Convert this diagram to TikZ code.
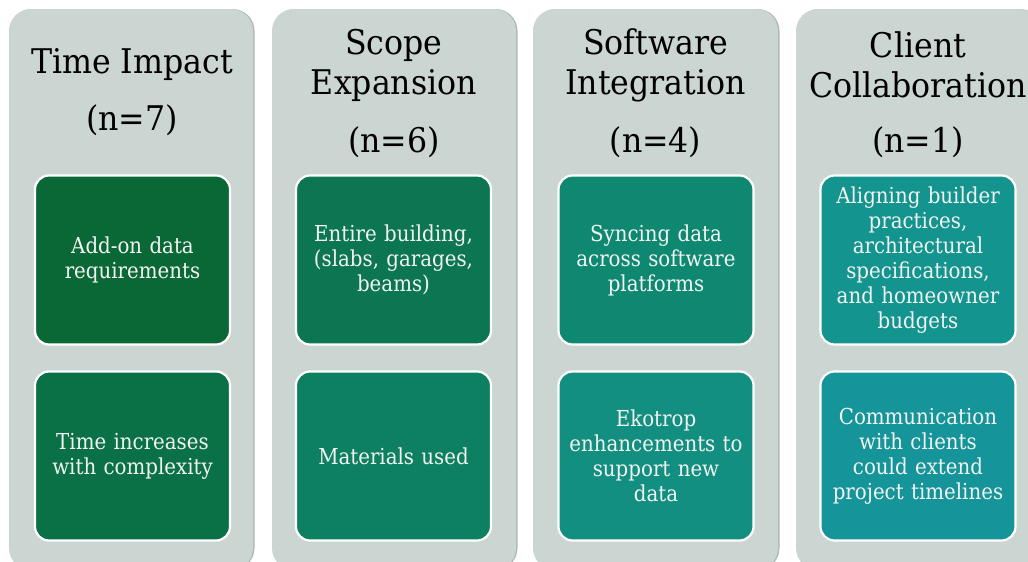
\documentclass[tikz,border=0pt]{standalone}
\usepackage{fontspec}
\setmainfont{DejaVu Serif}[FakeStretch=0.93]
\newfontfamily\cardfamily{DejaVu Serif}[FakeStretch=0.9]
\begin{document}
\definecolor{colgrey}{HTML}{CBD5D1}
\definecolor{colshade}{HTML}{AEB8B4}
\definecolor{cardtext}{HTML}{F2F4F2}
\definecolor{gA}{HTML}{0A6837}
\definecolor{gB}{HTML}{0A7045}
\definecolor{gC}{HTML}{0B7651}
\definecolor{gD}{HTML}{0C8061}
\definecolor{gE}{HTML}{0F8871}
\definecolor{gF}{HTML}{128F80}
\definecolor{gG}{HTML}{13948E}
\definecolor{gH}{HTML}{15949A}
\begin{tikzpicture}[x=1pt,y=-1pt,
  column/.style={fill=colgrey, rounded corners=22pt},
  colshadow/.style={fill=colshade, rounded corners=22pt},
  head/.style={align=center, font=\fontsize{34}{40}\selectfont, text=black},
  card/.style={draw=white, line width=2.2pt, rounded corners=14pt,
    minimum width=195pt, minimum height=169pt, inner sep=2pt,
    align=center, text=cardtext, text width=190pt,
    font=\cardfamily\fontsize{22}{25}\selectfont}]
\useasboundingbox (0,0) rectangle (1028,562);
\fill[white] (0,0) rectangle (1028,562);
% grey columns, each with a faint shadow on its right side
\foreach \l/\r in {9/253, 272/516, 533/778, 796/1040}{
  \path[colshadow] (\l+1.5,9) rectangle (\r+1.5,570);
  \path[column] (\l,9) rectangle (\r,570);
}
% headings
\node[head] (h1) at (132,65) {Time Impact};
\node[head] (h2) at (394,65) {Scope\\Expansion};
\node[head] (h3) at (655.5,65) {Software\\Integration};
\node[head] (h4) at (918,65) {Client\\Collaboration};
\node[head] (n1) at (132,120) {(n=7)};
\node[head] (n2) at (394,142) {(n=6)};
\node[head] (n3) at (655.5,142) {(n=4)};
\node[head] (n4) at (918,142) {(n=1)};
% cards
\node[card, fill=gA] (a1) at (132.5,260) {Add-on data\\requirements};
\node[card, fill=gB] (a2) at (132.5,456) {Time increases\\with complexity};
\node[card, fill=gC] (b1) at (393.5,260) {Entire building,\\(slabs, garages,\\beams)};
\node[card, fill=gD] (b2) at (393.5,456) {Materials used};
\node[card, fill=gE] (c1) at (656,260) {Syncing data\\across software\\platforms};
\node[card, fill=gF] (c2) at (656,456) {Ekotrop\\enhancements to\\support new\\data};
\node[card, fill=gG] (d1) at (918,260) {Aligning builder\\practices,\\architectural\\specifications,\\and homeowner\\budgets};
\node[card, fill=gH] (d2) at (918,456) {Communication\\with clients\\could extend\\project timelines};
\end{tikzpicture}
\end{document}
